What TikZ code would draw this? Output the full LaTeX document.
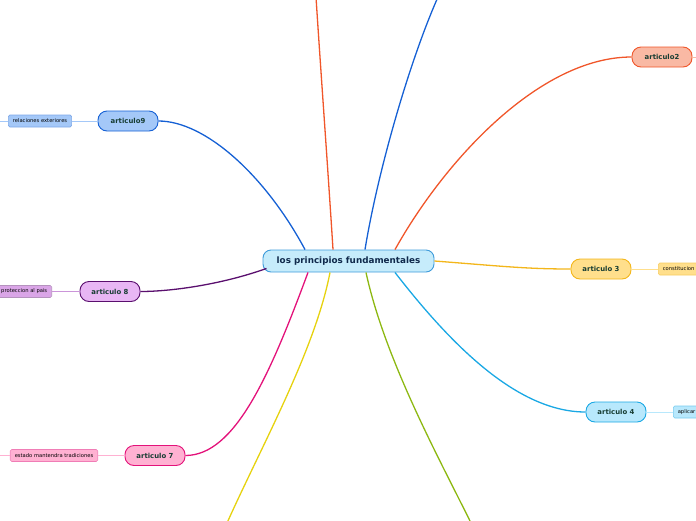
\documentclass[tikz,border=0pt]{standalone}
\usepackage{fontspec}
\setmainfont{DejaVu Sans}
\usetikzlibrary{positioning, calc}

\definecolor{centerfill}{HTML}{C6ECFB}
\definecolor{centerdraw}{HTML}{3E9BDA}
\definecolor{centertext}{HTML}{102A4C}
\definecolor{topictext}{HTML}{173D33}
\definecolor{orangefill}{HTML}{F9B9A4}
\definecolor{orangedraw}{HTML}{F0562A}
\definecolor{bluefill}{HTML}{A4C8F8}
\definecolor{bluedraw}{HTML}{1560D4}
\definecolor{purplefill}{HTML}{E8B6F4}
\definecolor{purpledraw}{HTML}{5A0F6E}
\definecolor{pinkfill}{HTML}{FFB1D2}
\definecolor{pinkdraw}{HTML}{E3127A}
\definecolor{yellowfill}{HTML}{FFDF8C}
\definecolor{yellowdraw}{HTML}{F3B61A}
\definecolor{cyanfill}{HTML}{B8E8FC}
\definecolor{cyandraw}{HTML}{1AA8E4}
\definecolor{lemondraw}{HTML}{E6D20F}
\definecolor{greendraw}{HTML}{8DB812}

\begin{document}
\begin{tikzpicture}[x=1pt, y=-1pt,
        central/.style={rectangle, draw=centerdraw, fill=centerfill, line width=0.9pt, rounded corners=8pt, minimum width=171pt, minimum height=22pt, font=\fontsize{8.8}{10}\selectfont\bfseries, text=centertext},
        topic/.style={rectangle, line width=0.9pt, rounded corners=9pt, minimum width=60pt, minimum height=20pt, font=\fontsize{6.9}{8}\selectfont\bfseries, text=topictext},
        subtopic/.style={rectangle, line width=0.6pt, rounded corners=1.5pt, minimum height=12pt, inner xsep=4.5pt, font=\fontsize{5.2}{6}\selectfont},
        branch/.style={line width=1.3pt},
        twig/.style={line width=0.8pt}
    ]
        \useasboundingbox (0,0) rectangle (696,520);
        \clip (0,0) rectangle (696,520);

        \node[central] (center) at (348.5,261) {los principios fundamentales};

        \node[topic, draw=orangedraw, fill=orangefill] (art2) at (662,57) {articulo2};
        \node[topic, draw=bluedraw, fill=bluefill] (art9) at (128,121) {articulo9};
        \node[topic, draw=purpledraw, fill=purplefill] (art8) at (110,291.5) {articulo 8};
        \node[topic, draw=pinkdraw, fill=pinkfill] (art7) at (155,455.5) {articulo 7};
        \node[topic, draw=yellowdraw, fill=yellowfill] (art3) at (601,269) {articulo 3};
        \node[topic, draw=cyandraw, fill=cyanfill] (art4) at (616,412) {articulo 4};

        \node[subtopic, draw=bluedraw!55, fill=bluefill] (rel) at (40,121) {relaciones exteriores};
        \node[subtopic, draw=purpledraw!45, fill=purplefill!90!purpledraw, anchor=east] (prot) at (52,291.5) {proteccion al pais};
        \node[subtopic, draw=pinkdraw!55, fill=pinkfill] (trad) at (54,455.5) {estado mantendra tradiciones};
        \node[subtopic, draw=yellowdraw!70, fill=yellowfill, anchor=west, text width=40pt, align=left] (const) at (658,269) {constitucion};
        \node[subtopic, draw=cyandraw!60, fill=cyanfill, anchor=west, text width=30pt, align=left] (apl) at (673,412) {aplicar};

        % branches leaving the page
        \coordinate (topA) at (316,-3);
        \coordinate (topB) at (438,-3);
        \coordinate (botA) at (227,523);
        \coordinate (botB) at (471,523);
        \coordinate (art2out) at (700,57);
        \coordinate (relout) at (-4,121);
        \coordinate (tradout) at (-4,455.5);

        \draw[branch, orangedraw] ([xshift=-15.5pt]center.north) .. controls (328,170) and (320,60) .. (topA);
        \draw[branch, bluedraw] ([xshift=16.5pt]center.north) .. controls (378,170) and (410,60) .. (topB);
        \draw[branch, lemondraw] ([xshift=-18.5pt]center.south) .. controls (315,350) and (262,445) .. (botA);
        \draw[branch, greendraw] ([xshift=17.5pt]center.south) .. controls (385,360) and (440,460) .. (botB);

        \draw[branch, orangedraw] ([xshift=46.5pt]center.north) .. controls (445,160) and (540,57) .. (art2.west);
        \draw[branch, bluedraw] ([xshift=-43.5pt]center.north) .. controls (265,175) and (205,121) .. (art9.east);
        \draw[branch, purpledraw] ([xshift=4pt, yshift=4pt]center.south west) .. controls (220,285) and (170,291.5) .. (art8.east);
        \draw[branch, pinkdraw] ([xshift=-40.5pt]center.south) .. controls (270,375) and (235,455.5) .. (art7.east);
        \draw[branch, yellowdraw] (center.east) .. controls (500,266) and (525,269) .. (art3.west);
        \draw[branch, cyandraw] ([xshift=46.5pt]center.south) .. controls (455,350) and (520,412) .. (art4.west);

        \draw[twig, orangefill] (art2.east) -- (art2out);
        \draw[twig, bluefill] (art9.west) -- (rel.east);
        \draw[twig, bluefill] (rel.west) -- (relout);
        \draw[twig, purplefill!80!purpledraw] (art8.west) -- (prot.east);
        \draw[twig, pinkfill] (art7.west) -- (trad.east);
        \draw[twig, pinkfill] (trad.west) -- (tradout);
        \draw[twig, yellowfill] (art3.east) -- (const.west);
        \draw[twig, cyanfill] (art4.east) -- (apl.west);
    \end{tikzpicture}
\end{document}
